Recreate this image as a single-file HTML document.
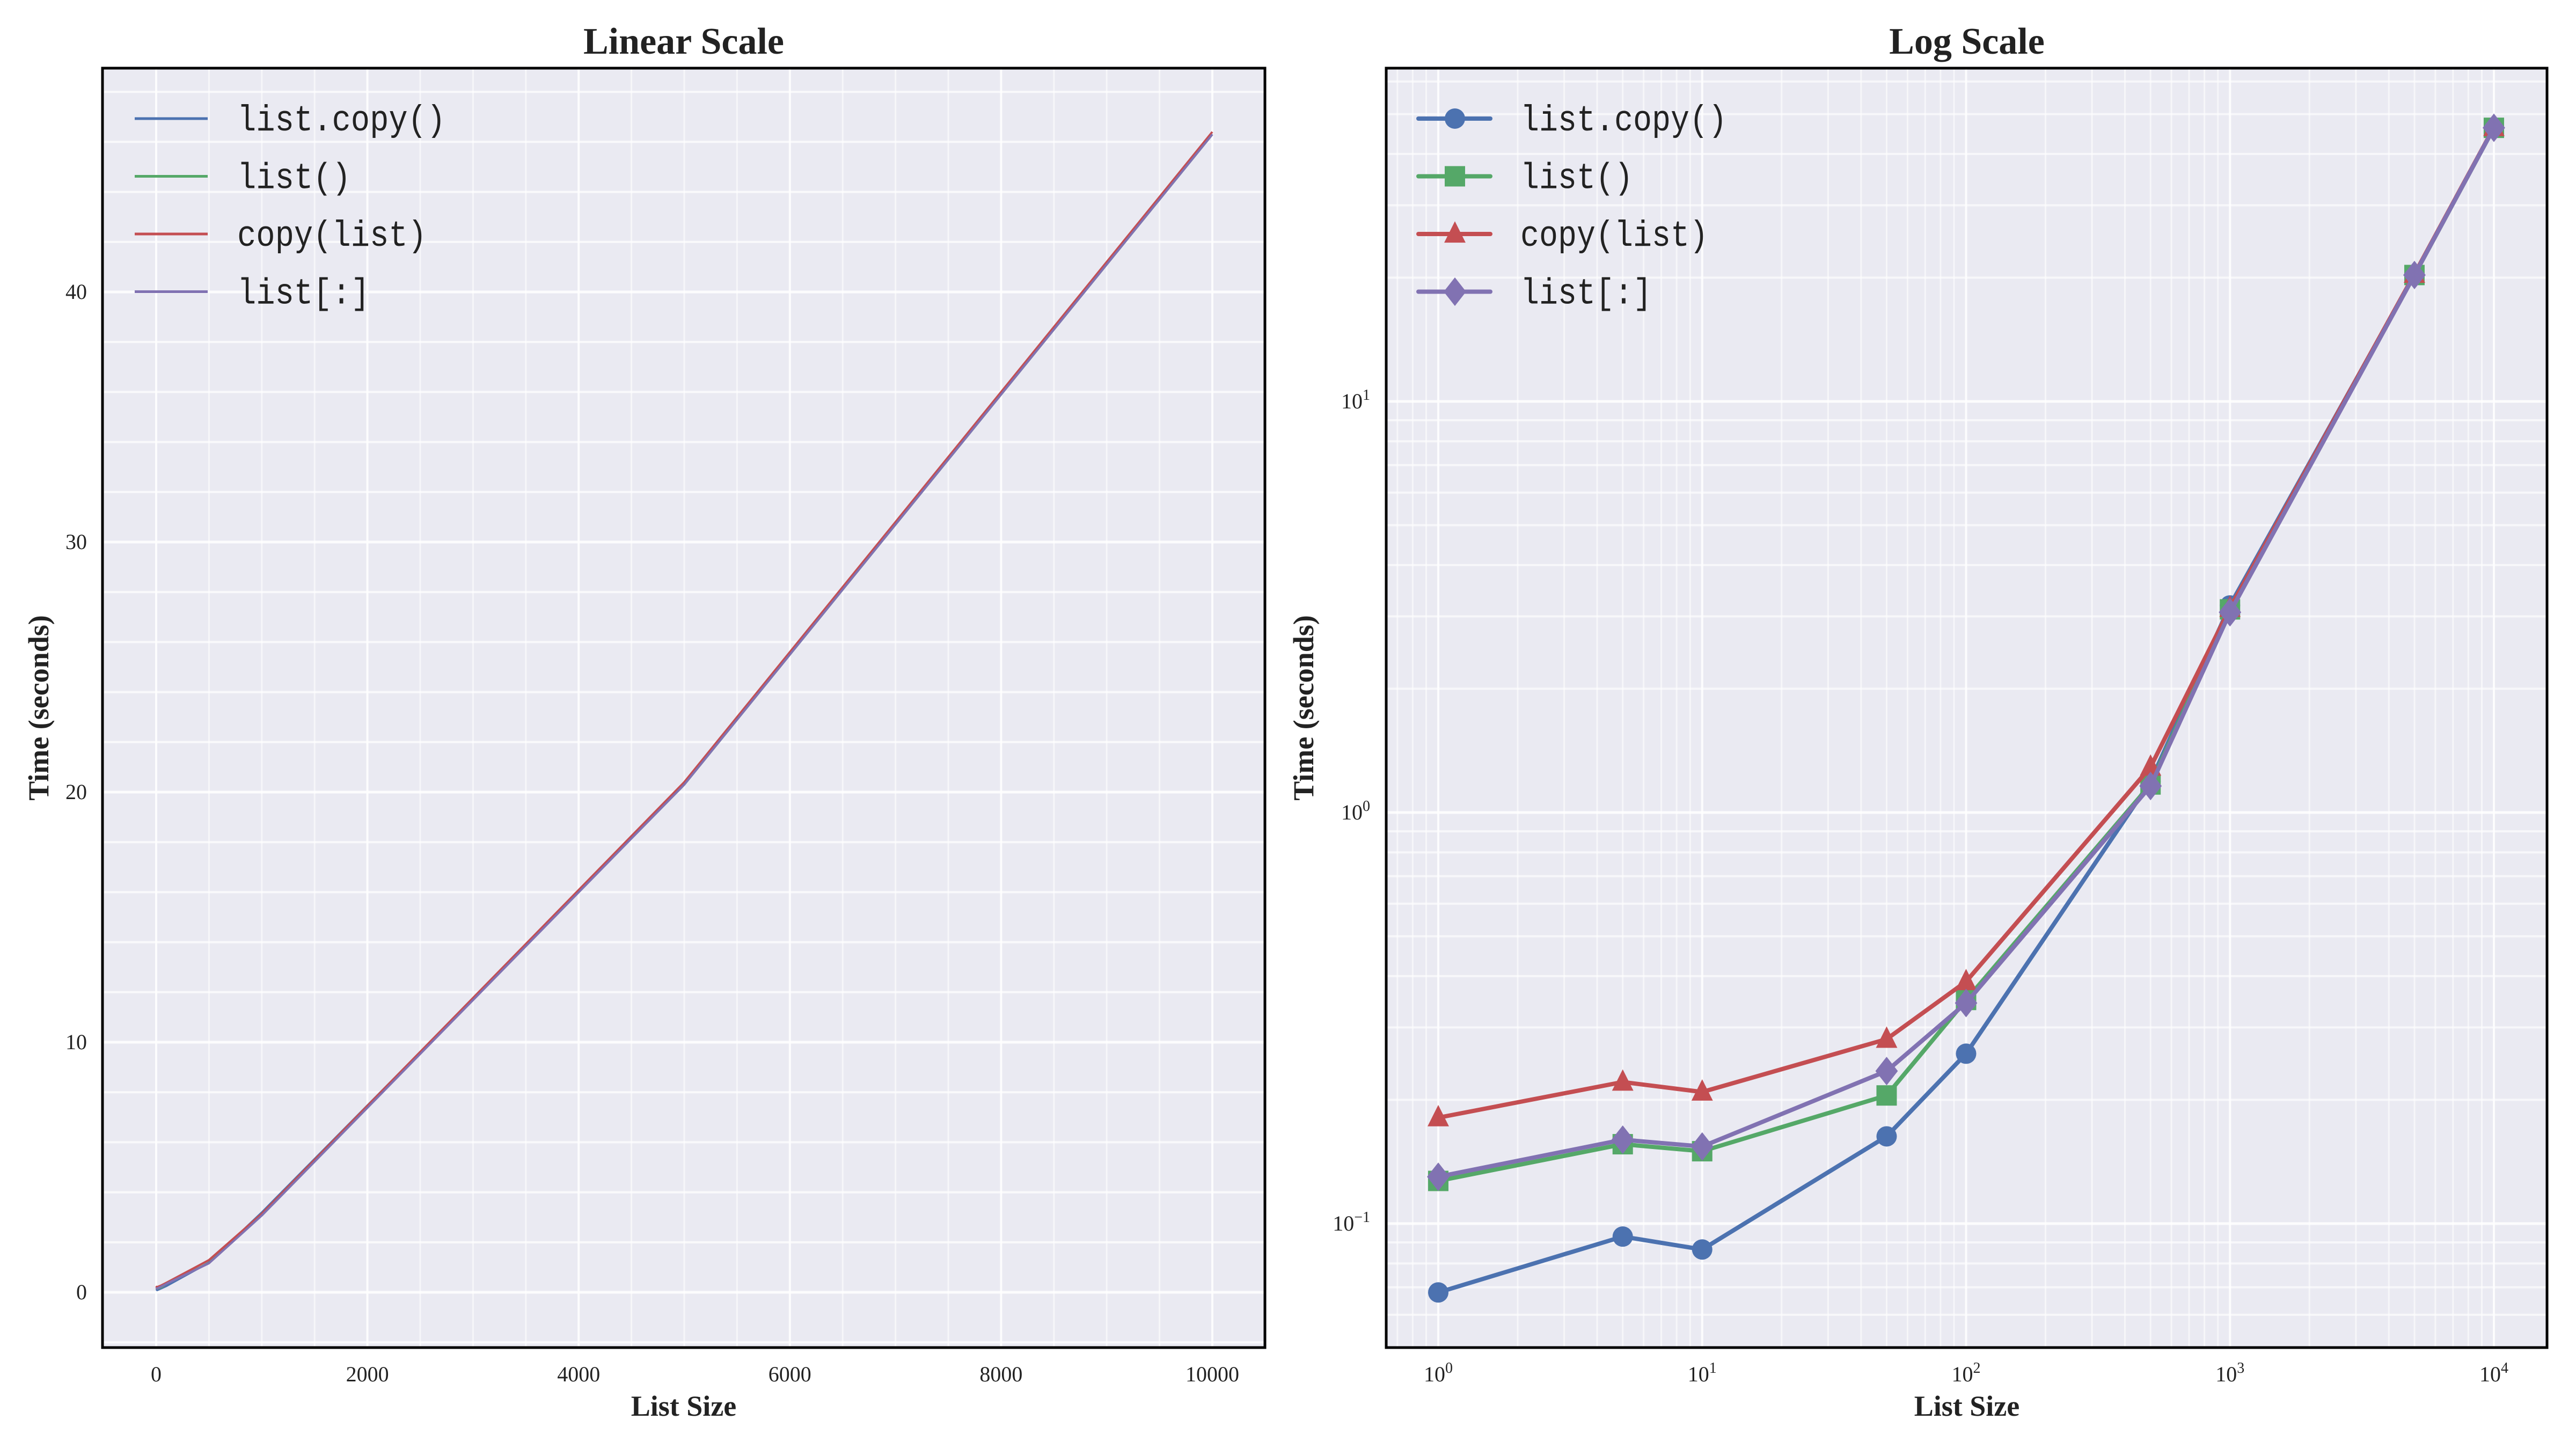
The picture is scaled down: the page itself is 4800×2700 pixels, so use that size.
<!DOCTYPE html>
<html><head><meta charset="utf-8"><style>html,body{margin:0;padding:0;background:#fff}svg{display:block}</style></head>
<body>
<svg id="s" xmlns="http://www.w3.org/2000/svg" width="4800" height="2700" viewBox="0 0 4800 2700">
<rect width="4800" height="2700" fill="#fff"/>
<g id="L"></g><g id="R"></g>
</svg>
<script>
const NS="http://www.w3.org/2000/svg";
function el(p,t,a,txt){const e=document.createElementNS(NS,t);for(const k in a)e.setAttribute(k,a[k]);if(txt!==undefined)e.textContent=txt;p.appendChild(e);return e;}
const xs=[1,5,10,50,100,500,1000,5000,10000];
const data=[
 {n:"list.copy()",c:"#4c72b0",m:"o",v:[0.068,0.093,0.0865,0.163,0.259,1.19,3.19,20.3,46.3]},
 {n:"list()",c:"#55a868",m:"s",v:[0.127,0.156,0.150,0.205,0.35,1.17,3.12,20.3,46.3]},
 {n:"copy(list)",c:"#c44e52",m:"^",v:[0.181,0.221,0.209,0.281,0.388,1.29,3.14,20.4,46.4]},
 {n:"list[:]",c:"#8172b2",m:"D",v:[0.130,0.160,0.154,0.235,0.344,1.16,3.07,20.3,46.3]}
];
const serif='"Liberation Serif",serif', mono='"Liberation Mono",monospace';
// LEFT
const L=document.getElementById("L");
const lx0=191,lx1=2357,ly0=127,ly1=2511;
el(L,"rect",{x:lx0,y:ly0,width:lx1-lx0,height:ly1-ly0,fill:"#eaeaf2"});
const LX=x=>291+x*0.1968, LY=v=>2408-v*46.6;
for(let x=-500;x<=10500;x+=500){const X=LX(x);if(X>lx0&&X<lx1)el(L,"line",{x1:X,x2:X,y1:ly0,y2:ly1,stroke:"#fff",'stroke-width':x%2000==0?4:3,opacity:x%2000==0?0.9:0.6});}
for(let v=-2;v<=48;v+=2){const Y=LY(v);if(Y>ly0&&Y<ly1)el(L,"line",{x1:lx0,x2:lx1,y1:Y,y2:Y,stroke:"#fff",'stroke-width':v%10==0?5:4,opacity:v%10==0?0.9:0.75});}
data.forEach(d=>{el(L,"polyline",{points:xs.map((x,i)=>LX(x)+","+LY(d.v[i])).join(" "),fill:"none",stroke:d.c,'stroke-width':4,'stroke-linejoin':"round"});});
el(L,"rect",{x:lx0,y:ly0,width:lx1-lx0,height:ly1-ly0,fill:"none",stroke:"#000",'stroke-width':5});
[0,2000,4000,6000,8000,10000].forEach(x=>el(L,"text",{x:LX(x),y:2574,'font-family':serif,'font-size':40,'text-anchor':"middle",fill:"#222"},x));
[0,10,20,30,40].forEach(v=>el(L,"text",{x:162,y:LY(v)+13,'font-family':serif,'font-size':40,'text-anchor':"end",fill:"#222"},v));
el(L,"text",{x:1274,y:100,'font-family':serif,'font-size':70,'font-weight':"bold",'text-anchor':"middle",fill:"#222"},"Linear Scale");
el(L,"text",{x:1274,y:2638,'font-family':serif,'font-size':54,'font-weight':"bold",'text-anchor':"middle",fill:"#222"},"List Size");
el(L,"text",{x:0,y:0,transform:"translate(90,1319) rotate(-90)",'font-family':serif,'font-size':54,'font-weight':"bold",'text-anchor':"middle",fill:"#222"},"Time (seconds)");
data.forEach((d,i)=>{const y=221+i*107.5;el(L,"line",{x1:251,x2:387,y1:y,y2:y,stroke:d.c,'stroke-width':5});
 el(L,"text",{x:442,y:y+22,'font-family':mono,'font-size':68,fill:"#222",textLength:d.n.length*35.3,lengthAdjust:"spacingAndGlyphs"},d.n);});
// RIGHT
const R=document.getElementById("R");
const rx0=2583,rx1=4746,ry0=127,ry1=2511;
el(R,"rect",{x:rx0,y:ry0,width:rx1-rx0,height:ry1-ry0,fill:"#eaeaf2"});
const RX=x=>2680+Math.log10(x)*491.75, RY=v=>2280-(Math.log10(v)+1)*766;
for(let e=-1;e<=4;e++)for(let k=1;k<=9;k++){const X=RX(k*Math.pow(10,e));if(X>rx0&&X<rx1)el(R,"line",{x1:X,x2:X,y1:ry0,y2:ry1,stroke:"#fff",'stroke-width':k==1?4:3,opacity:k==1?0.9:0.6});}
for(let e=-2;e<=2;e++)for(let k=1;k<=9;k++){const Y=RY(k*Math.pow(10,e));if(Y>ry0&&Y<ry1)el(R,"line",{x1:rx0,x2:rx1,y1:Y,y2:Y,stroke:"#fff",'stroke-width':k==1?5:4,opacity:k==1?0.9:0.65});}
function marker(g,m,x,y,c,s){s=s||19;
 if(m=="o")el(g,"circle",{cx:x,cy:y,r:s,fill:c});
 else if(m=="s")el(g,"rect",{x:x-s,y:y-s,width:2*s,height:2*s,fill:c});
 else if(m=="^")el(g,"polygon",{points:`${x},${y-s*1.25} ${x+s*1.05},${y+s*0.85} ${x-s*1.05},${y+s*0.85}`,fill:c});
 else el(g,"polygon",{points:`${x},${y-s*1.4} ${x+s*1.1},${y} ${x},${y+s*1.4} ${x-s*1.1},${y}`,fill:c});}
data.forEach(d=>{el(R,"polyline",{points:xs.map((x,i)=>RX(x)+","+RY(d.v[i])).join(" "),fill:"none",stroke:d.c,'stroke-width':8,'stroke-linejoin':"round"});
 xs.forEach((x,i)=>marker(R,d.m,RX(x),RY(d.v[i]),d.c));});
el(R,"rect",{x:rx0,y:ry0,width:rx1-rx0,height:ry1-ry0,fill:"none",stroke:"#000",'stroke-width':5});
for(let e=0;e<=4;e++){const t=el(R,"text",{x:RX(Math.pow(10,e)),y:2574,'font-family':serif,'font-size':40,'text-anchor':"middle",fill:"#222"},"10");el(t,"tspan",{dy:-16,'font-size':28},e);}
[[-1,"−1"],[0,"0"],[1,"1"]].forEach(([e,l])=>{const t=el(R,"text",{x:2553,y:RY(Math.pow(10,e))+13,'font-family':serif,'font-size':40,'text-anchor':"end",fill:"#222"},"10");el(t,"tspan",{dy:-16,'font-size':28},l);});
el(R,"text",{x:3665,y:100,'font-family':serif,'font-size':70,'font-weight':"bold",'text-anchor':"middle",fill:"#222"},"Log Scale");
el(R,"text",{x:3665,y:2638,'font-family':serif,'font-size':54,'font-weight':"bold",'text-anchor':"middle",fill:"#222"},"List Size");
el(R,"text",{x:0,y:0,transform:"translate(2447,1319) rotate(-90)",'font-family':serif,'font-size':54,'font-weight':"bold",'text-anchor':"middle",fill:"#222"},"Time (seconds)");
data.forEach((d,i)=>{const y=221+i*107.5;el(R,"line",{x1:2643,x2:2777,y1:y,y2:y,stroke:d.c,'stroke-width':8,'stroke-linecap':"round"});
 marker(R,d.m,2711,y,d.c);
 el(R,"text",{x:2833,y:y+22,'font-family':mono,'font-size':68,fill:"#222",textLength:d.n.length*35,lengthAdjust:"spacingAndGlyphs"},d.n);});
</script>
</body></html>
